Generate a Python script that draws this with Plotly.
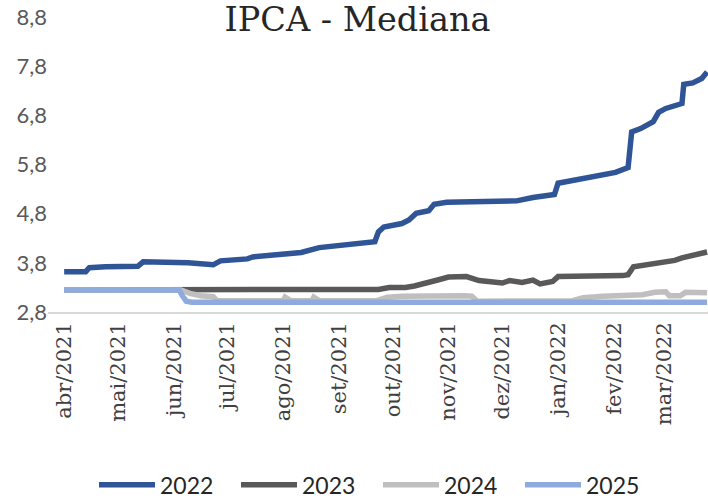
import plotly.graph_objects as go

# ---- data ----
dates_2022 = ["2021-04-01", "2021-04-13", "2021-04-15", "2021-04-24", "2021-05-12", "2021-05-15",
              "2021-06-09", "2021-06-16", "2021-06-23", "2021-06-27", "2021-07-12", "2021-07-15",
              "2021-07-31", "2021-08-11", "2021-08-21", "2021-09-06", "2021-09-21", "2021-09-23",
              "2021-09-26", "2021-10-06", "2021-10-10", "2021-10-14", "2021-10-21", "2021-10-24",
              "2021-10-31", "2021-11-14", "2021-12-09", "2021-12-18", "2021-12-26", "2021-12-30",
              "2022-01-01", "2022-01-13", "2022-01-20", "2022-02-02", "2022-02-09", "2022-02-11",
              "2022-02-16", "2022-02-23", "2022-02-26", "2022-03-02", "2022-03-11", "2022-03-12",
              "2022-03-17", "2022-03-22", "2022-03-25"]
values_2022 = [3.62, 3.62, 3.70, 3.72, 3.73, 3.82,
               3.80, 3.77, 3.76, 3.84, 3.88, 3.92,
               3.98, 4.01, 4.11, 4.16, 4.23, 4.43,
               4.53, 4.60, 4.67, 4.81, 4.86, 4.99,
               5.03, 5.04, 5.06, 5.13, 5.18, 5.19,
               5.42, 5.51, 5.56, 5.64, 5.74, 6.46,
               6.53, 6.67, 6.86, 6.94, 7.04, 7.43,
               7.46, 7.55, 7.68]

dates_2023 = ["2021-04-01", "2021-09-23", "2021-09-29", "2021-10-08", "2021-10-13", "2021-10-21",
              "2021-10-26", "2021-11-01", "2021-11-11", "2021-11-18", "2021-12-01", "2021-12-05",
              "2021-12-12", "2021-12-18", "2021-12-22", "2021-12-29", "2022-01-01", "2022-02-06",
              "2022-02-09", "2022-02-12", "2022-02-24", "2022-03-07", "2022-03-11", "2022-03-19",
              "2022-03-22", "2022-03-25"]
values_2023 = [3.25, 3.26, 3.30, 3.30, 3.33, 3.42,
               3.45, 3.51, 3.52, 3.44, 3.39, 3.44,
               3.40, 3.45, 3.37, 3.42, 3.52, 3.54,
               3.56, 3.72, 3.78, 3.85, 3.90, 3.96,
               4.01, 4.02]

dates_2024 = ["2021-04-01", "2021-06-05", "2021-06-10", "2021-06-16", "2021-06-23", "2021-06-25",
              "2021-08-01", "2021-08-02", "2021-08-05", "2021-08-17", "2021-08-18", "2021-08-21",
              "2021-09-22", "2021-09-28", "2021-10-06", "2021-10-17", "2021-10-28", "2021-11-10",
              "2021-11-14", "2021-11-17", "2022-01-09", "2022-01-15", "2022-01-26", "2022-02-06",
              "2022-02-17", "2022-02-24", "2022-03-02", "2022-03-04", "2022-03-10", "2022-03-13",
              "2022-03-22", "2022-03-25"]
values_2024 = [3.25, 3.25, 3.18, 3.13, 3.11, 3.03,
               3.03, 3.10, 3.03, 3.03, 3.10, 3.03,
               3.03, 3.10, 3.12, 3.13, 3.14, 3.13,
               3.12, 3.02, 3.03, 3.09, 3.12, 3.14,
               3.15, 3.20, 3.21, 3.13, 3.13, 3.20,
               3.21, 3.19]

dates_2025 = ["2021-04-01", "2021-06-04", "2021-06-06", "2021-06-08", "2021-06-11", "2022-03-25"]
values_2025 = [3.25, 3.25, 3.12, 3.02, 3.00, 3.00]

series_names = ["2022", "2023", "2024", "2025"]
series_colors = ["#2F5597", "#595959", "#BFBFBF", "#8FAADC"]

tick_dates = ["2021-04-01", "2021-05-01", "2021-06-01", "2021-07-01", "2021-08-01", "2021-09-01",
              "2021-10-01", "2021-11-01", "2021-12-01", "2022-01-01", "2022-02-01", "2022-03-01"]
tick_labels = ["abr/2021", "mai/2021", "jun/2021", "jul/2021", "ago/2021", "set/2021",
               "out/2021", "nov/2021", "dez/2021", "jan/2022", "fev/2022", "mar/2022"]

y_ticks = [2.8, 3.8, 4.8, 5.8, 6.8, 7.8, 8.8]
y_tick_labels = ["2,8", "3,8", "4,8", "5,8", "6,8", "7,8", "8,8"]

# ---- figure ----
fig = go.Figure()
all_dates = [dates_2022, dates_2023, dates_2024, dates_2025]
all_values = [values_2022, values_2023, values_2024, values_2025]
for name, color, xs, ys in zip(series_names, series_colors, all_dates, all_values):
    fig.add_trace(go.Scatter(x=xs, y=ys, mode="lines", name=name,
                             line=dict(color=color, width=5.5)))

fig.update_layout(
    width=708, height=499,
    paper_bgcolor="white", plot_bgcolor="white",
    margin=dict(l=48, r=0, t=17, b=187, autoexpand=False),
    title=dict(text="IPCA - Mediana", x=0.505, xanchor="center", y=0.962, yanchor="middle",
               font=dict(family="DejaVu Serif", size=33.5, color="#262626")),
    showlegend=True,
    legend=dict(orientation="h", x=0.5, xanchor="center", y=-0.586, yanchor="middle",
                font=dict(family="Lato", size=23, color="#262626"),
                entrywidth=71, itemwidth=56, bgcolor="rgba(0,0,0,0)"),
    xaxis=dict(type="date", range=["2021-03-23", "2022-03-25 12:00"], automargin=False,
               tickmode="array", tickvals=tick_dates, ticktext=tick_labels,
               tickangle=-90, showgrid=False, zeroline=False,
               showline=True, linecolor="#D9D9D9", linewidth=1.5,
               tickfont=dict(family="DejaVu Serif", size=21, color="#404040")),
    yaxis=dict(range=[2.8, 8.8], tickmode="array", tickvals=y_ticks, ticktext=y_tick_labels,
               automargin=False, showgrid=False, zeroline=False, showline=False,
               tickfont=dict(family="Lato", size=22, color="#595959")),
)

fig.write_html("out.html", config={"displayModeBar": False},
               post_script="document.body.style.margin='0';document.body.style.padding='0';")
